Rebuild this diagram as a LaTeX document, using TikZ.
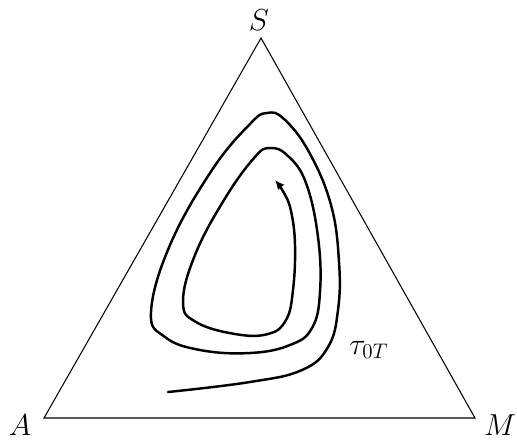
\documentclass[tikz,border=0pt]{standalone}
\usetikzlibrary{arrows.meta,positioning}
\begin{document}
\begin{tikzpicture}[x=0.02cm,y=-0.02cm,
  side/.style={draw,line width=0.6pt,line join=miter},
  orbit/.style={line width=1.4pt,line cap=round,-{Latex[length=1.9mm,width=1.7mm]}},
  vlabel/.style={font=\fontsize{19}{23}\selectfont,inner sep=0pt}
]
\useasboundingbox (0,0) rectangle (517,441);
\coordinate (s) at (261,38);
\coordinate (a) at (44,418);
\coordinate (m) at (475,418);
\node[vlabel] (slabel) at (259,20) {$S$};
\node[vlabel] (alabel) at (20,425) {$A$};
\node[vlabel] (mlabel) at (500,425) {$M$};
\node[font=\fontsize{18}{22}\selectfont,inner sep=0pt] (tau) at (369,350) {$\tau_{0T}$};
\draw[side] (a) -- (s) -- (m) -- cycle;
% trajectory spiralling inwards
\draw[orbit] plot[smooth,tension=0.7] coordinates {
  (168,392) (250,382) (302,370) (328,347) (338,310) (339,262) (331,205)
  (309,152) (284,119) (267,113) (250,124) (212,170) (170,245) (151,312)
  (165,337) (200,350) (250,353) (290,345) (312,328) (320,292) (318,237)
  (306,183) (288,156) (270,148) (254,158) (224,200) (195,255) (183,302)
  (196,322) (235,334) (268,334) (286,320) (293,290) (295,245) (291,211)
  (284,193) (275,180)};
\end{tikzpicture}
\end{document}
